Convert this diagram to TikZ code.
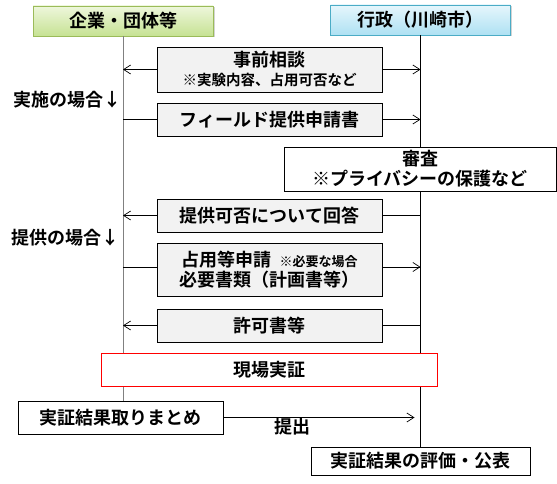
\documentclass[tikz,border=0pt]{standalone}
\usepackage{fontspec}
\setmainfont{Noto Sans CJK JP}[BoldFont={Noto Sans CJK JP Bold}]
\usetikzlibrary{arrows.meta,shadows}
\definecolor{gtop}{HTML}{EEF7DC}
\definecolor{gbot}{HTML}{C6E293}
\definecolor{gdraw}{HTML}{9BBB59}
\definecolor{btop}{HTML}{E6F6FC}
\definecolor{bbot}{HTML}{AEE1F3}
\definecolor{bdraw}{HTML}{4BACC6}
\definecolor{msgfill}{HTML}{F2F2F2}
\definecolor{lifegray}{HTML}{808080}
\begin{document}
\begin{tikzpicture}[x=1pt,y=-1pt,
  every node/.style={inner sep=0pt, font=\bfseries\fontsize{18}{21}\selectfont},
  hdrbox/.style={draw, line width=0.8pt, minimum width=180pt, minimum height=30pt,
    drop shadow={shadow xshift=1.5pt, shadow yshift=-1.5pt, opacity=0.35}},
  msgbox/.style={draw, line width=0.8pt, fill=msgfill, minimum width=225pt, align=center},
  plainbox/.style={draw, line width=0.8pt, fill=white, align=center},
  arr/.style={-{Straight Barb[length=7pt,width=9pt,line width=0.7pt]}, line width=0.7pt},
  conn/.style={line width=0.7pt},
  label/.style={anchor=center}
]
\useasboundingbox (0,0) rectangle (557,484);

% headers
\node[hdrbox, draw=gdraw, top color=gtop, bottom color=gbot] (hL) at (123,21) {企業・団体等};
\node[hdrbox, draw=bdraw, top color=btop, bottom color=bbot] (hR) at (420.5,20) {行政（川崎市）};

% final box (needed for lifeline end)
\coordinate (Lbot) at (123,434);
\node[plainbox, minimum width=219pt, minimum height=28pt] (eval) at (420.5,461) {実証結果の評価・公表};

% lifelines
\draw[lifegray, line width=1pt] (hL.south) -- (Lbot);
\draw[black, line width=1pt] (hR.south) -- (eval.north);

% message boxes
\node[msgbox, minimum height=45pt] (b1) at (269.5,69.5)
  {事前相談\\[-2pt]{\fontsize{14.5}{17}\selectfont ※実験内容、占用可否など}};
\node[msgbox, minimum height=33pt] (b2) at (269.5,119.5) {フィールド提供申請書};
\node[plainbox, minimum width=272pt, minimum height=44pt] (rev) at (420,169)
  {審査\\[-1pt]※プライバシーの保護など};
\node[msgbox, minimum height=33pt] (b3) at (269.5,215.5) {提供可否について回答};
\node[msgbox, minimum height=53pt] (b4) at (269.5,269.5)
  {占用等申請\ \ {\fontsize{13}{15}\selectfont ※必要な場合}\\[-1pt]必要書類（計画書等）};
\node[msgbox, minimum height=33pt] (b5) at (269.5,325.5) {許可書等};
\node[plainbox, draw=red, minimum width=336pt, minimum height=33pt] (field) at (269,369.5) {現場実証};
\node[plainbox, minimum width=205pt, minimum height=33pt] (sum) at (120.5,417.5) {実証結果取りまとめ};

% connectors
\draw[arr] (b1.west) -- (b1.west -| hL.south);
\draw[arr] (b1.east) -- (b1.east -| hR.south);
\draw[conn] (b2.west -| hL.south) -- (b2.west);
\draw[arr] (b2.east) -- (b2.east -| hR.south);
\draw[arr] (b3.west) -- (b3.west -| hL.south);
\draw[conn] (b3.east) -- (b3.east -| hR.south);
\draw[conn] ([yshift=2.5pt]b4.west -| hL.south) -- ([yshift=2.5pt]b4.west);
\draw[arr] ([yshift=2.5pt]b4.east) -- ([yshift=2.5pt]b4.east -| hR.south);
\draw[arr] (b5.west) -- (b5.west -| hL.south);
\draw[conn] (b5.east) -- (b5.east -| hR.south);
\draw[arr] (sum.east) -- ([xshift=-6pt]sum.east -| hR.south) node[label, pos=0.36, yshift=-9pt] (sub) {提出};

% side labels
\node[label] (l1) at (67,100) {実施の場合↓};
\node[label] (l2) at (66,238) {提供の場合↓};
\end{tikzpicture}
\end{document}
